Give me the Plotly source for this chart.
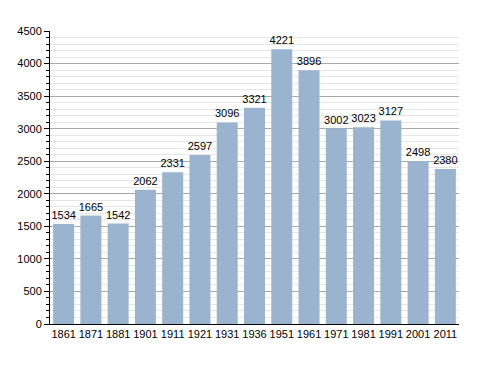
import plotly.graph_objects as go

years = ["1861", "1871", "1881", "1901", "1911", "1921", "1931", "1936", "1951", "1961", "1971", "1981", "1991", "2001", "2011"]
population = [1534, 1665, 1542, 2062, 2331, 2597, 3096, 3321, 4221, 3896, 3002, 3023, 3127, 2498, 2380]

fig = go.Figure(go.Bar(
    x=years, y=population,
    marker=dict(color="#9ab4cf", line=dict(width=0)),
    text=[str(v) for v in population], textposition="outside",
    textfont=dict(color="#000000", size=11, family="Liberation Sans, Arial"),
    constraintext="none",
    cliponaxis=False, width=0.77,
))

fig.update_layout(
    width=472, height=357,
    margin=dict(l=42, r=21, t=23, b=41),
    paper_bgcolor="white", plot_bgcolor="white",
    font=dict(family="Liberation Sans, Arial", size=11, color="#000000"),
    showlegend=False,
)
fig.update_xaxes(
    type="category", showgrid=False, showline=True, linecolor="#000000", linewidth=1,
    ticks="", tickfont=dict(size=11), range=[-0.5, 14.5], automargin=False,
)
fig.update_yaxes(
    range=[0, 4500], tick0=0, dtick=500, showgrid=True, gridcolor="#a8a8a8", gridwidth=1,
    showline=True, linecolor="#000000", linewidth=1, ticks="outside", ticklen=5, tickcolor="#000000",
    minor=dict(dtick=100, showgrid=True, gridcolor="#e6e6e6", ticks="outside", ticklen=3, tickcolor="#000000"),
    zeroline=False, tickfont=dict(size=11), automargin=False,
)

fig.write_html("out.html")
